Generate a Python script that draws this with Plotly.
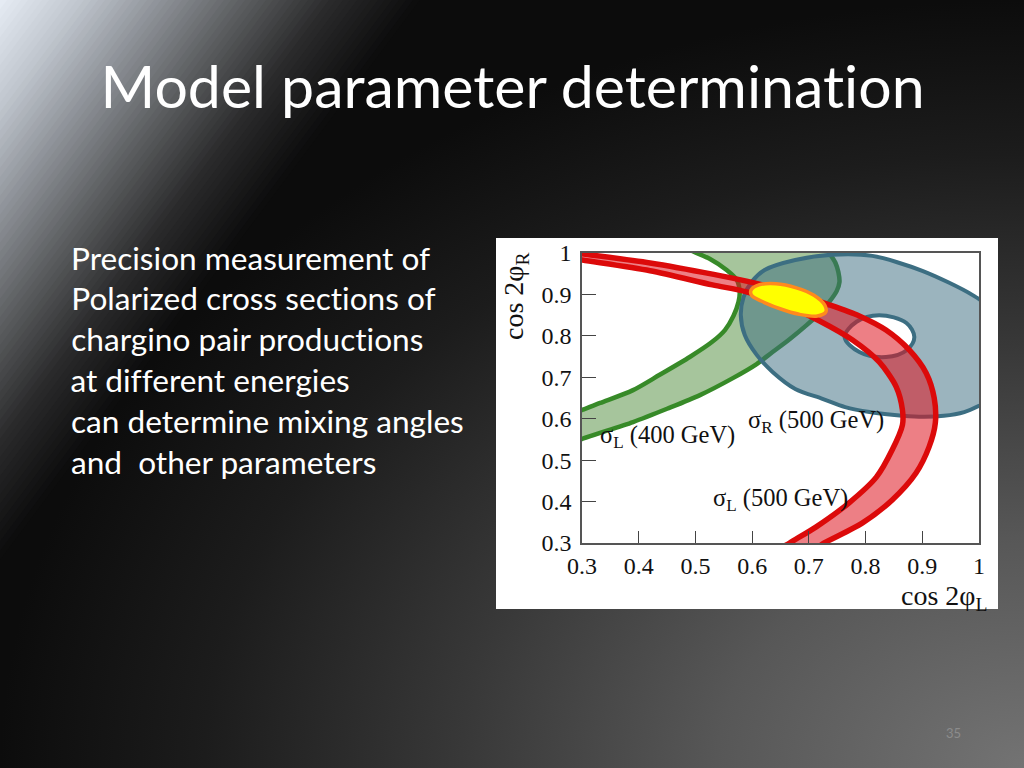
import plotly.graph_objects as go

# ---------------- data ----------------
x_ticks = [0.3, 0.4, 0.5, 0.6, 0.7, 0.8, 0.9, 1.0]
x_tick_labels = ["0.3", "0.4", "0.5", "0.6", "0.7", "0.8", "0.9", "1"]
y_ticks = [0.3, 0.4, 0.5, 0.6, 0.7, 0.8, 0.9, 1.0]
y_tick_labels = ["0.3", "0.4", "0.5", "0.6", "0.7", "0.8", "0.9", "1"]

# sigma_L (400 GeV) band: upper-left boundary and lower-right boundary
green_a_x = [0.279, 0.300, 0.332, 0.390, 0.437, 0.490, 0.529, 0.552, 0.567, 0.576, 0.578, 0.573, 0.555, 0.525, 0.499, 0.481]
green_a_y = [0.609, 0.621, 0.638, 0.669, 0.706, 0.749, 0.785, 0.814, 0.848, 0.882, 0.906, 0.935, 0.959, 0.986, 1.002, 1.015]
green_b_x = [0.279, 0.300, 0.390, 0.450, 0.508, 0.566, 0.608, 0.636, 0.666, 0.696, 0.719, 0.736, 0.749, 0.754, 0.752, 0.747, 0.736, 0.729]
green_b_y = [0.539, 0.551, 0.592, 0.624, 0.657, 0.698, 0.732, 0.761, 0.792, 0.826, 0.855, 0.882, 0.908, 0.930, 0.954, 0.976, 1.000, 1.015]

# sigma_R (500 GeV) ring: outer and inner boundaries
blue_outer_x = [0.580, 0.585, 0.599, 0.622, 0.676, 0.742, 0.812, 0.900, 0.988, 1.035, 1.053, 1.035, 1.000, 0.974, 0.938, 0.894, 0.851, 0.807, 0.764, 0.724, 0.676, 0.636, 0.608, 0.587, 0.580]
blue_outer_y = [0.850, 0.894, 0.930, 0.959, 0.983, 0.996, 0.993, 0.957, 0.899, 0.850, 0.754, 0.657, 0.631, 0.616, 0.607, 0.605, 0.609, 0.616, 0.628, 0.648, 0.672, 0.713, 0.754, 0.802, 0.850]
blue_inner_x = [0.763, 0.784, 0.824, 0.872, 0.886, 0.873, 0.836, 0.789, 0.763]
blue_inner_y = [0.797, 0.834, 0.850, 0.831, 0.797, 0.766, 0.749, 0.761, 0.797]

# sigma_L (500 GeV) band: outer (upper/right) and inner (lower/left) boundaries
red_outer_x = [0.265, 0.300, 0.420, 0.530, 0.590, 0.666, 0.736, 0.789, 0.836, 0.877, 0.907, 0.921, 0.923, 0.912, 0.889, 0.847, 0.794, 0.727, 0.701]
red_outer_y = [1.004, 0.998, 0.976, 0.949, 0.932, 0.906, 0.875, 0.848, 0.814, 0.766, 0.710, 0.650, 0.590, 0.532, 0.469, 0.404, 0.348, 0.300, 0.278]
red_inner_x = [0.265, 0.300, 0.420, 0.530, 0.590, 0.666, 0.719, 0.777, 0.824, 0.854, 0.865, 0.865, 0.847, 0.819, 0.771, 0.713, 0.666, 0.641]
red_inner_y = [0.991, 0.983, 0.957, 0.923, 0.906, 0.870, 0.836, 0.790, 0.737, 0.677, 0.621, 0.585, 0.525, 0.459, 0.397, 0.339, 0.300, 0.278]

# combined allowed region
yellow_x = [0.598, 0.612, 0.642, 0.678, 0.709, 0.728, 0.730, 0.715, 0.683, 0.648, 0.616, 0.599, 0.598]
yellow_y = [0.910, 0.923, 0.926, 0.916, 0.898, 0.874, 0.858, 0.848, 0.852, 0.866, 0.884, 0.898, 0.910]

band_labels = ["σ<sub>L</sub> (400 GeV)", "σ<sub>R</sub> (500 GeV)", "σ<sub>L</sub> (500 GeV)"]
band_label_x = [0.451, 0.712, 0.650]
band_label_y = [0.556, 0.594, 0.404]

title_text = "Model parameter determination"
body_lines = [
    "Precision measurement of",
    "Polarized cross sections of",
    "chargino pair productions",
    "at different energies",
    "can determine mixing angles",
    "and  other parameters",
]
page_number = "35"

# ---------------- layout constants ----------------
W, H = 1024, 768
def px(v):
    return v / W
def py(v):
    return 1 - v / H

fig = go.Figure()

# slide background (on a full-page helper axis pair)
fig.add_trace(go.Scatter(
    x=[0, 2, 2, 0, 0], y=[-1, -1, 1, 1, -1], mode="lines", fill="toself",
    line=dict(width=0), hoverinfo="skip", showlegend=False, xaxis="x", yaxis="y",
    fillgradient=dict(type="radial", colorscale=[
        [0.0, "#737373"], [0.3, "#575757"], [0.55, "#383838"], [0.8, "#1c1c1c"], [1.0, "#0c0c0c"]]),
))

# diagonal light glow from the top-left corner, built as nested triangles
GLOW_STOPS = [(0.0, (232, 238, 246)), (0.2, (192, 198, 206)), (0.4, (140, 144, 150)),
              (0.6, (90, 92, 94)), (0.8, (42, 42, 43)), (1.0, (13, 13, 13))]
GLOW_X, GLOW_Y = 420, 560  # pixel extent of the glow along the top and left edges

def glow_color(s):
    for (s0, c0), (s1, c1) in zip(GLOW_STOPS[:-1], GLOW_STOPS[1:]):
        if s <= s1:
            f = (s - s0) / (s1 - s0)
            return "rgb(%d,%d,%d)" % tuple(round(a + (b - a) * f) for a, b in zip(c0, c1))
    return "rgb(13,13,13)"

n_steps = 60
for k in range(n_steps, 0, -1):
    s = k / n_steps
    fig.add_trace(go.Scatter(
        x=[0, px(GLOW_X * s), 0, 0], y=[1, 1, py(GLOW_Y * s), 1], mode="lines", fill="toself",
        fillcolor=glow_color(s), line=dict(width=0), hoverinfo="skip", showlegend=False,
        xaxis="x", yaxis="y",
    ))

# white picture panel
fig.add_trace(go.Scatter(
    x=[px(496), px(998), px(998), px(496), px(496)], y=[py(609), py(609), py(238), py(238), py(609)],
    mode="lines", fill="toself", fillcolor="white", line=dict(width=0),
    hoverinfo="skip", showlegend=False, xaxis="x", yaxis="y",
))

# ---------------- chart ----------------
GREEN = "#378a28"
BLUE = "#3c6e82"
RED = "#dc0a0a"

fig.add_trace(go.Scatter(
    x=green_a_x + green_b_x[::-1], y=green_a_y + green_b_y[::-1],
    mode="lines", fill="toself", fillcolor="rgba(60,128,40,0.46)",
    line=dict(color=GREEN, width=4.5, shape="spline", smoothing=0.8),
    hoverinfo="skip", showlegend=False, xaxis="x2", yaxis="y2",
))
fig.add_trace(go.Scatter(
    x=blue_outer_x, y=blue_outer_y, mode="lines", fill="toself",
    fillcolor="rgba(58,107,128,0.51)",
    line=dict(color=BLUE, width=4, shape="spline", smoothing=0.8),
    hoverinfo="skip", showlegend=False, xaxis="x2", yaxis="y2",
))
fig.add_trace(go.Scatter(
    x=blue_inner_x, y=blue_inner_y, mode="lines", fill="toself", fillcolor="white",
    line=dict(color=BLUE, width=4, shape="spline", smoothing=1),
    hoverinfo="skip", showlegend=False, xaxis="x2", yaxis="y2",
))
fig.add_trace(go.Scatter(
    x=red_outer_x + red_inner_x[::-1], y=red_outer_y + red_inner_y[::-1],
    mode="lines", fill="toself", fillcolor="rgba(222,22,32,0.55)",
    line=dict(color=RED, width=5.5, shape="spline", smoothing=0.8),
    hoverinfo="skip", showlegend=False, xaxis="x2", yaxis="y2",
))
fig.add_trace(go.Scatter(
    x=yellow_x, y=yellow_y, mode="lines", fill="toself", fillcolor="#ffff00",
    line=dict(color="#ff8a1e", width=3.5, shape="spline", smoothing=1),
    hoverinfo="skip", showlegend=False, xaxis="x2", yaxis="y2",
))

SERIF = "Liberation Serif, Times New Roman, serif"
SANS = "Lato, Open Sans, sans-serif"

annotations = []
for t, xv, yv in zip(band_labels, band_label_x, band_label_y):
    annotations.append(dict(text=t, x=xv, y=yv, xref="x2", yref="y2", showarrow=False,
                            xanchor="center", yanchor="middle",
                            font=dict(family=SERIF, size=24.5, color="#111")))
annotations.append(dict(text="cos 2φ<sub>R</sub>", x=px(515), y=py(296), xref="paper", yref="paper",
                        showarrow=False, textangle=-90, xanchor="center", yanchor="middle",
                        font=dict(family=SERIF, size=28, color="#111")))
annotations.append(dict(text="cos 2φ<sub>L</sub>", x=px(989), y=py(597), xref="paper", yref="paper",
                        showarrow=False, xanchor="right", yanchor="middle",
                        font=dict(family=SERIF, size=28, color="#111")))
annotations.append(dict(text=title_text, x=px(98), y=py(86), xref="paper", yref="paper",
                        showarrow=False, xanchor="left", yanchor="middle",
                        font=dict(family=SANS, size=59, color="white")))
body_y = [258, 298, 339, 380, 421, 462]
for line, yv in zip(body_lines, body_y):
    annotations.append(dict(text=line, x=px(69), y=py(yv), xref="paper", yref="paper",
                            showarrow=False, xanchor="left", yanchor="middle",
                            font=dict(family=SANS, size=31.6, color="white")))
annotations.append(dict(text=page_number, x=px(953), y=py(733), xref="paper", yref="paper",
                        showarrow=False, xanchor="center", yanchor="middle",
                        font=dict(family=SANS, size=13, color="#8c8c8c")))

fig.update_layout(
    width=W, height=H, autosize=False,
    margin=dict(l=0, r=0, t=0, b=0, pad=0, autoexpand=False),
    paper_bgcolor="#0c0c0c", plot_bgcolor="rgba(0,0,0,0)",
    showlegend=False,
    xaxis=dict(domain=[0, 1], range=[0, 1], visible=False, fixedrange=True),
    yaxis=dict(domain=[0, 1], range=[0, 1], visible=False, fixedrange=True),
    xaxis2=dict(domain=[px(582), px(979)], anchor="y2", range=[0.3, 1.0],
                tickmode="array", tickvals=x_ticks, ticktext=x_tick_labels,
                ticks="inside", ticklen=12, tickwidth=1.2, tickcolor="#444",
                showline=True, linecolor="#555", linewidth=1.5, mirror=True,
                showgrid=False, zeroline=False, automargin=False,
                tickfont=dict(family=SERIF, size=24, color="#111")),
    yaxis2=dict(domain=[py(543), py(253)], anchor="x2", range=[0.3, 1.0],
                tickmode="array", tickvals=y_ticks, ticktext=y_tick_labels,
                ticks="inside", ticklen=14, tickwidth=1.2, tickcolor="#444",
                showline=True, linecolor="#555", linewidth=1.5, mirror=True,
                showgrid=False, zeroline=False, ticklabelstandoff=4, automargin=False,
                tickfont=dict(family=SERIF, size=24, color="#111")),
    annotations=annotations,
)

fig.write_html(
    "out.html",
    config={"displayModeBar": False},
    post_script=(
        "document.body.style.margin='0px';document.body.style.padding='0px';"
        "document.body.style.overflow='hidden';document.body.style.background='#0c0c0c';"
        "var st=document.createElement('style');"
        "st.innerHTML='svg text, svg tspan{font-variant-ligatures:none !important;"
        "font-feature-settings:\"liga\" 0, \"clig\" 0, \"calt\" 0 !important;}';"
        "document.head.appendChild(st);"
        "document.querySelectorAll('svg text').forEach(function(t){"
        "t.style.fontVariantLigatures='none';t.style.fontFeatureSettings='\"liga\" 0, \"clig\" 0';});"
    ),
)
